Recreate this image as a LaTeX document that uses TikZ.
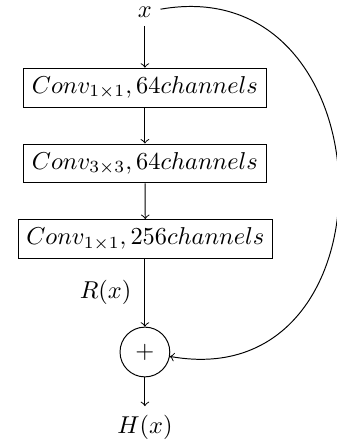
\documentclass[tikz,border=0pt]{standalone}
\usetikzlibrary{arrows}
\begin{document}
\begin{tikzpicture}[x=1pt,y=1pt,
  convbox/.style={draw, rectangle, inner sep=3.33pt},
  sumnode/.style={draw, circle, minimum size=20.4pt, inner sep=0pt},
  conn/.style={->}]
\useasboundingbox (0,0) rectangle (138.1,-181.6);
\node (x) at (59.4,-4.9) {$x$};
\node[convbox] (c1) at (59.4,-35.9) {$Conv_{1\times1},64channels$};
\node[convbox] (c2) at (59.4,-67.0) {$Conv_{3\times3},64channels$};
\node[convbox] (c3) at (59.6,-97.95) {$Conv_{1\times1},256channels$};
\node[sumnode] (plus) at (59.4,-144.3) {$+$};
\node (h) at (59.4,-175) {$H(x)$};
\draw[conn] (x) -- (c1);
\draw[conn] (c1) -- (c2);
\draw[conn] (c2) -- (c3);
\draw[conn] (c3.south -| plus) -- node[left, xshift=-2pt] (r) {$R(x)$} (plus);
\draw[conn] (plus) -- (h);
\draw[conn] (x) to[out=10, in=-10, looseness=1.73] (plus);
\end{tikzpicture}
\end{document}
